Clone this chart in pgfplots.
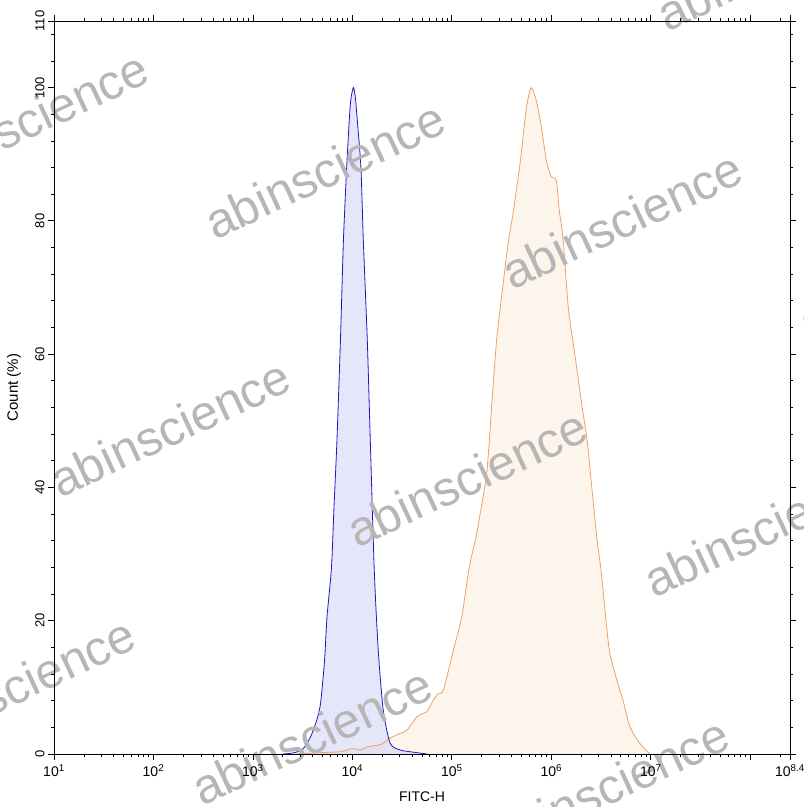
\documentclass[border=0pt]{standalone}
\usepackage{pgfplots}
\pgfplotsset{compat=1.18}
\usepackage{pgfplotstable}
\usepackage{fontspec}
\setmainfont{Liberation Sans}
\definecolor{bline}{RGB}{25,25,190}
\definecolor{bfill}{RGB}{213,213,247}
\definecolor{oline}{RGB}{240,160,100}
\definecolor{ofill}{RGB}{253,245,236}
\definecolor{wm}{RGB}{182,182,182}

\pgfplotstableread{
lx y
3.30 0
3.40 0.15
3.50 0.7
3.58 2.6
3.64 5
3.68 7.6
3.72 14
3.745 20.6
3.79 28
3.815 37
3.845 47.1
3.88 62.1
3.91 77.1
3.946 89
3.98 97.6
4.01 100
4.03 98.5
4.05 95
4.086 88
4.11 77.1
4.15 62.1
4.18 47.1
4.22 27.6
4.26 15.6
4.31 6.6
4.38 1.6
4.48 0.6
4.6 0.3
4.75 0
}\blue

\pgfplotstableread{
lx y
3.44 0
3.68 0.2
3.88 0.35
3.996 0.8
4.08 0.6
4.16 1.1
4.28 1.4
4.38 2.4
4.45 2.9
4.55 3.6
4.65 5.6
4.75 6.4
4.815 8.1
4.865 9.1
4.915 9.6
5.016 15.6
5.10 20.6
5.17 27.6
5.22 31.1
5.25 33.1
5.35 42.1
5.40 52.1
5.45 62.1
5.52 71.1
5.57 77.1
5.62 81.6
5.69 89.1
5.746 96.6
5.796 100
5.85 98
5.90 94.1
5.95 89.1
6.00 86.6
6.05 86.1
6.08 81.6
6.12 77.1
6.17 67.1
6.24 59.6
6.31 52.1
6.36 47.1
6.41 39.6
6.46 32.1
6.50 27.6
6.55 20
6.59 15
6.68 10
6.72 8.1
6.79 4.1
6.89 1.6
6.99 0
}\orange

\tikzset{wmk/.style={text=wm, rotate=25, inner sep=0pt, font=\fontsize{49}{52}\selectfont}}

\begin{document}
\begin{tikzpicture}
\begin{axis}[
  set layers=axis on top,
  clip=false,
  scale only axis,
  width=736pt, height=733pt,
  xmin=1, xmax=8.4, ymin=0, ymax=110,
  axis line style={line width=0.8pt},
  tick style={black, line width=0.8pt},
  tick align=outside,
  major tick length=6pt,
  minor tick length=3pt,
  xtick={1,2,3,4,5,6,7,8,8.4},
  xticklabels={10\textsuperscript{1},10\textsuperscript{2},10\textsuperscript{3},10\textsuperscript{4},10\textsuperscript{5},10\textsuperscript{6},10\textsuperscript{7},{},10\textsuperscript{8.4}},
  minor xtick={1.301,1.477,1.602,1.699,1.778,1.845,1.903,1.954,
               2.301,2.477,2.602,2.699,2.778,2.845,2.903,2.954,
               3.301,3.477,3.602,3.699,3.778,3.845,3.903,3.954,
               4.301,4.477,4.602,4.699,4.778,4.845,4.903,4.954,
               5.301,5.477,5.602,5.699,5.778,5.845,5.903,5.954,
               6.301,6.477,6.602,6.699,6.778,6.845,6.903,6.954,
               7.301,7.477,7.602,7.699,7.778,7.845,7.903,7.954,
               8.301},
  ytick={0,20,40,60,80,100,110},
  minor ytick={4,8,12,16,24,28,32,36,44,48,52,56,64,68,72,76,84,88,92,96,104,108},
  /pgf/number format/assume math mode=true,
  xticklabel style={font=\fontsize{14}{16}\selectfont, anchor=north, yshift=-1pt},
  yticklabel style={font=\fontsize{13}{15}\selectfont, rotate=90, anchor=south, xshift=0pt},
  xlabel={FITC-H},
  ylabel={Count (\%)},
  xlabel style={font=\fontsize{14}{16}\selectfont, at={(axis description cs:0.5,-0.0587)}, anchor=center},
  ylabel style={font=\fontsize{15}{17}\selectfont, at={(axis description cs:-0.0543,0.5)}, anchor=center},
]
\addplot[draw=none, fill=ofill, smooth, tension=0.4] table[x=lx,y=y] {\orange} \closedcycle;
\addplot[draw=none, fill=bfill, fill opacity=0.6, smooth, tension=0.4] table[x=lx,y=y] {\blue} \closedcycle;
\addplot[oline, line width=0.8pt, smooth, tension=0.4] table[x=lx,y=y] {\orange};
\addplot[bline, line width=0.8pt, smooth, tension=0.4] table[x=lx,y=y] {\blue};
\node[wmk] at ([xshift=-26pt,yshift=634pt]rel axis cs:0,0) {abinscience};
\node[wmk] at ([xshift=271pt,yshift=584pt]rel axis cs:0,0) {abinscience};
\node[wmk] at ([xshift=568pt,yshift=534pt]rel axis cs:0,0) {abinscience};
\node[wmk] at ([xshift=865pt,yshift=484pt]rel axis cs:0,0) {abinscience};
\node[wmk] at ([xshift=723pt,yshift=792pt]rel axis cs:0,0) {abinscience};
\node[wmk] at ([xshift=116pt,yshift=326pt]rel axis cs:0,0) {abinscience};
\node[wmk] at ([xshift=413pt,yshift=276pt]rel axis cs:0,0) {abinscience};
\node[wmk] at ([xshift=710pt,yshift=226pt]rel axis cs:0,0) {abinscience};
\node[wmk] at ([xshift=-39pt,yshift=68pt]rel axis cs:0,0) {abinscience};
\node[wmk] at ([xshift=258pt,yshift=18pt]rel axis cs:0,0) {abinscience};
\node[wmk] at ([xshift=555pt,yshift=-32pt]rel axis cs:0,0) {abinscience};
\end{axis}
\pgfresetboundingbox
\path ([xshift=-54pt,yshift=-53pt]current axis.south west) rectangle ([xshift=14pt,yshift=21pt]current axis.north east);
\end{tikzpicture}
\end{document}
